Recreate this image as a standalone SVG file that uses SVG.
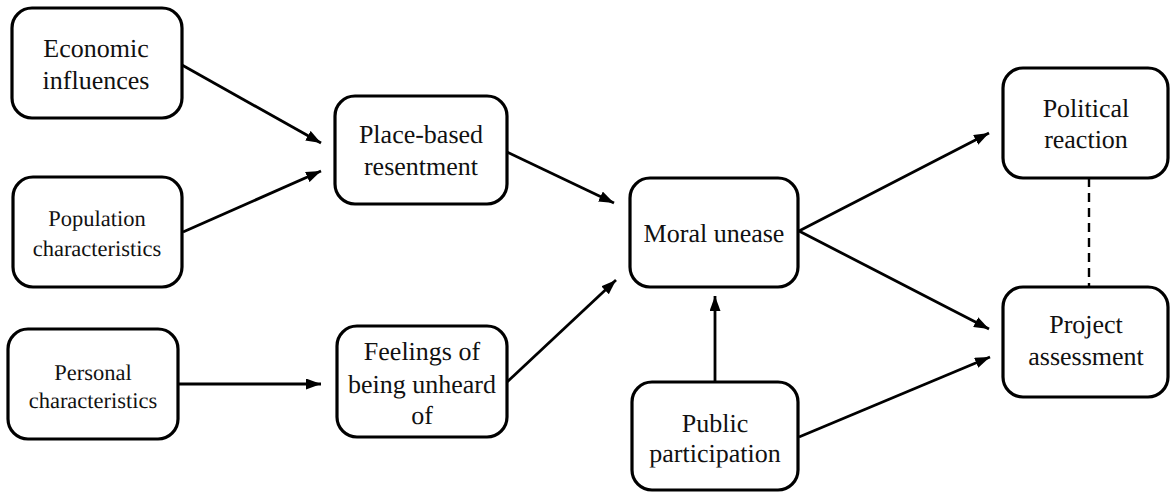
<svg xmlns="http://www.w3.org/2000/svg" width="1170" height="494" viewBox="0 0 1170 494">
<style>
.box{fill:#fff;stroke:#000;stroke-width:3.2}
.t{font-family:"Liberation Serif","Times New Roman",serif;font-size:26px;fill:#111;text-anchor:middle;text-rendering:geometricPrecision}
.s{font-size:22.5px}
.c{fill:none;stroke:#000;stroke-width:2.8}
.d{fill:none;stroke:#000;stroke-width:2.4;stroke-dasharray:9,6}
</style>
<defs>
<marker id="ah" viewBox="0 0 15 11" refX="15" refY="5.5" markerWidth="15" markerHeight="11" markerUnits="userSpaceOnUse" orient="auto">
<path d="M0,0 L15,5.5 L0,11 Z" fill="#000"/>
</marker>
</defs>
<g id="connectors">
<line class="c" x1="182" y1="65" x2="321" y2="143" marker-end="url(#ah)"/>
<line class="c" x1="183" y1="232" x2="321" y2="171" marker-end="url(#ah)"/>
<line class="c" x1="178" y1="384" x2="321" y2="384" marker-end="url(#ah)"/>
<line class="c" x1="507" y1="152" x2="614" y2="203" marker-end="url(#ah)"/>
<line class="c" x1="507" y1="382" x2="616" y2="280" marker-end="url(#ah)"/>
<line class="c" x1="715" y1="382" x2="715" y2="296" marker-end="url(#ah)"/>
<line class="c" x1="799" y1="231" x2="989" y2="133" marker-end="url(#ah)"/>
<line class="c" x1="799" y1="231" x2="989" y2="329" marker-end="url(#ah)"/>
<line class="c" x1="799" y1="437" x2="990" y2="357" marker-end="url(#ah)"/>
<line class="d" x1="1089" y1="178" x2="1089" y2="287"/>
</g>
<g id="economic">
<rect class="box" x="12" y="8" width="170" height="110" rx="20"/>
<text class="t" x="96" y="57">Economic</text>
<text class="t" x="96" y="89">influences</text>
</g>
<g id="population">
<rect class="box" x="13" y="177" width="169" height="110" rx="20"/>
<text class="t s" x="97" y="226">Population</text>
<text class="t s" x="97" y="256">characteristics</text>
</g>
<g id="personal">
<rect class="box" x="8" y="329" width="170" height="110" rx="20"/>
<text class="t s" x="93" y="380">Personal</text>
<text class="t s" x="93" y="408">characteristics</text>
</g>
<g id="place">
<rect class="box" x="335" y="96" width="172" height="108" rx="20"/>
<text class="t" x="421" y="143">Place-based</text>
<text class="t" x="421" y="175">resentment</text>
</g>
<g id="feelings">
<rect class="box" x="337" y="326" width="170" height="111" rx="20"/>
<text class="t" x="422" y="360">Feelings of</text>
<text class="t" x="422" y="393">being unheard</text>
<text class="t" x="422" y="424">of</text>
</g>
<g id="moral">
<rect class="box" x="630" y="178" width="168" height="109" rx="20"/>
<text class="t" x="714" y="242">Moral unease</text>
</g>
<g id="public">
<rect class="box" x="632" y="382" width="166" height="108" rx="20"/>
<text class="t" x="715" y="432">Public</text>
<text class="t" x="715" y="462">participation</text>
</g>
<g id="political">
<rect class="box" x="1003" y="68" width="165" height="110" rx="20"/>
<text class="t" x="1086" y="117">Political</text>
<text class="t" x="1086" y="148">reaction</text>
</g>
<g id="project">
<rect class="box" x="1003" y="287" width="165" height="110" rx="20"/>
<text class="t" x="1086" y="333">Project</text>
<text class="t" x="1086" y="365">assessment</text>
</g>
</svg>
